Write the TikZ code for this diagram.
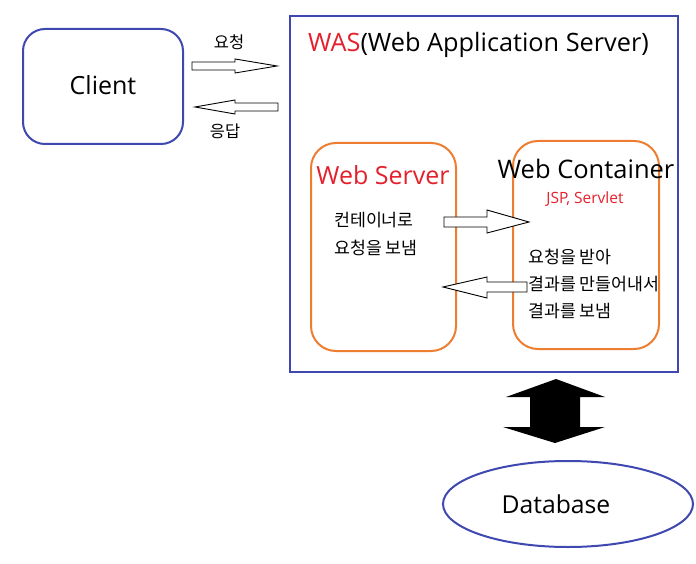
\documentclass[tikz,border=0pt]{standalone}
\usepackage{fontspec}
\setmainfont{Open Sans}
\newfontfamily\kr{Noto Sans CJK KR}
\usetikzlibrary{shapes.geometric}
\definecolor{wasblue}{HTML}{3F48B0}
\definecolor{wsorange}{HTML}{ED7D31}
\definecolor{wasred}{HTML}{E3202B}
\tikzset{
  bluebox/.style={draw=wasblue,line width=2pt},
  orangebox/.style={draw=wsorange,line width=2pt,rounded corners=25pt},
  hollowarrow/.style={draw=black,line width=0.9pt,fill=white},
  krtext/.style={font=\kr\fontsize{17.3}{20}\selectfont,anchor=west,inner sep=0pt},
  lbl/.style={font=\kr\fontsize{16.5}{19}\selectfont,inner sep=0pt},
}
\begin{document}
\begin{tikzpicture}[x=1pt,y=-1pt]
\useasboundingbox (0,0) rectangle (696,564);
% Client
\draw[bluebox,rounded corners=22pt] (23,29) rectangle (183,144);
\node[font=\fontsize{25}{29}\selectfont] (client) at (103,85) {Client};
% WAS
\draw[bluebox] (290,16) rectangle (678,372);
\node[anchor=base west,inner sep=0pt,font=\fontsize{25.3}{29}\selectfont] (wastitle) at (308,52) {\textcolor{wasred}{WAS}(Web Application Server)};
% Request / response arrows
\draw[hollowarrow] (192,62) -- (235,62) -- (235,59) -- (277,66) -- (235,73) -- (235,70) -- (192,70) -- cycle;
\node[lbl] (req) at (229,42) {요청};
\draw[hollowarrow] (278,103) -- (235,103) -- (235,100) -- (195,107) -- (235,114) -- (235,111) -- (278,111) -- cycle;
\node[lbl] (res) at (225,131) {응답};
% Web Server
\draw[orangebox] (311,143) rectangle (456,351);
\node[font=\fontsize{25}{29}\selectfont,text=wasred] (ws) at (383,175) {Web Server};
\node[krtext] (t1) at (334,220) {컨테이너로};
\node[krtext] (t2) at (334,248) {요청을 보냄};
% Web Container
\draw[orangebox] (513,141) rectangle (659,349);
\node[font=\fontsize{25.5}{29}\selectfont] (wc) at (586,169) {Web Container};
\node[font=\fontsize{15.5}{18}\selectfont,text=wasred] (jsp) at (585,199) {JSP, Servlet};
\node[krtext] (t3) at (528,257) {요청을 받아};
\node[krtext] (t4) at (528,284) {결과를 만들어내서};
\node[krtext] (t5) at (528,311) {결과를 보냄};
% inner arrows
\draw[hollowarrow] (444,217) -- (487,217) -- (487,210) -- (529,222) -- (487,233) -- (487,227) -- (444,227) -- cycle;
\draw[hollowarrow] (527,282) -- (487,282) -- (487,277) -- (443,287) -- (487,298) -- (487,292) -- (527,292) -- cycle;
% double black arrow
\fill[black] (556,379) -- (605,397) -- (580,397) -- (580,427) -- (605,427) -- (555,443) -- (503,427) -- (530,427) -- (530,397) -- (506,397) -- cycle;
% Database
\node[draw=wasblue,line width=2pt,ellipse,minimum width=250pt,minimum height=86pt,inner sep=0pt] (db) at (568,504) {};
\node[font=\fontsize{24.7}{28}\selectfont] (dbl) at (556,504) {Database};
\end{tikzpicture}
\end{document}
